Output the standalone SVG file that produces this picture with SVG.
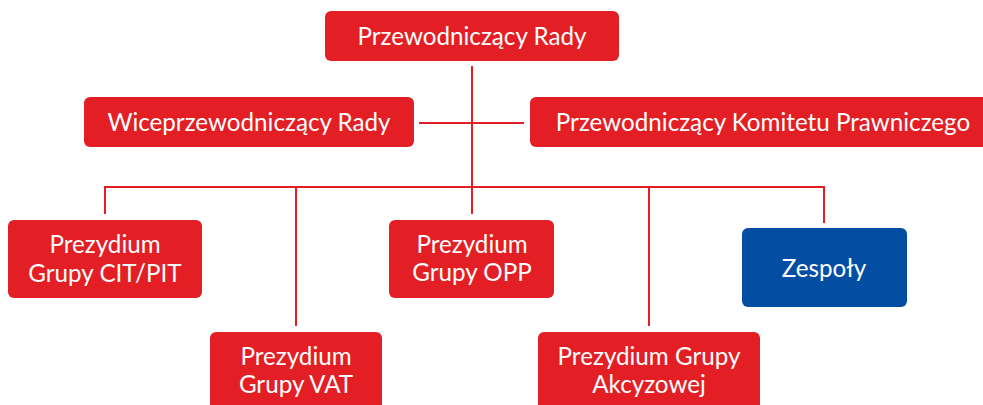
<svg xmlns="http://www.w3.org/2000/svg" width="983" height="405" viewBox="0 0 983 405">
<style>
.r{fill:#E31E24}
.b{fill:#034EA2}
text{font-family:Lato,"Open Sans","DejaVu Sans",sans-serif;font-size:24.2px;fill:#fff;text-anchor:middle}
.c{stroke:#E31E24;stroke-width:2;fill:none}
</style>
<rect width="983" height="405" fill="#fff"/>
<g id="connectors">
<path class="c" d="M472 66V214M419 123H524M105 214V187H824V223M296 187V326M649 187V326"/>
</g>
<g id="przewodniczacy"><rect class="r" x="325" y="11" width="294" height="50" rx="6"/><text x="472" y="45">Przewodniczący Rady</text></g>
<g id="wice"><rect class="r" x="84" y="97" width="330" height="50" rx="6"/><text x="249" y="131">Wiceprzewodniczący Rady</text></g>
<g id="komitet"><rect class="r" x="530" y="97" width="466" height="50" rx="6"/><text x="763" y="131">Przewodniczący Komitetu Prawniczego</text></g>
<g id="cit"><rect class="r" x="8" y="220" width="194" height="78" rx="6"/><text x="105" y="253">Prezydium</text><text x="105" y="282">Grupy CIT/PIT</text></g>
<g id="opp"><rect class="r" x="389" y="220" width="165" height="78" rx="6"/><text x="472" y="253">Prezydium</text><text x="472" y="281">Grupy OPP</text></g>
<g id="zespoly"><rect class="b" x="742" y="228" width="165" height="79" rx="6"/><text x="824" y="277">Zespoły</text></g>
<g id="vat"><rect class="r" x="210" y="332" width="172" height="90" rx="6"/><text x="296" y="365">Prezydium</text><text x="296" y="393">Grupy VAT</text></g>
<g id="akcyzowej"><rect class="r" x="538" y="332" width="222" height="90" rx="6"/><text x="649" y="365">Prezydium Grupy</text><text x="649" y="393">Akcyzowej</text></g>
</svg>
